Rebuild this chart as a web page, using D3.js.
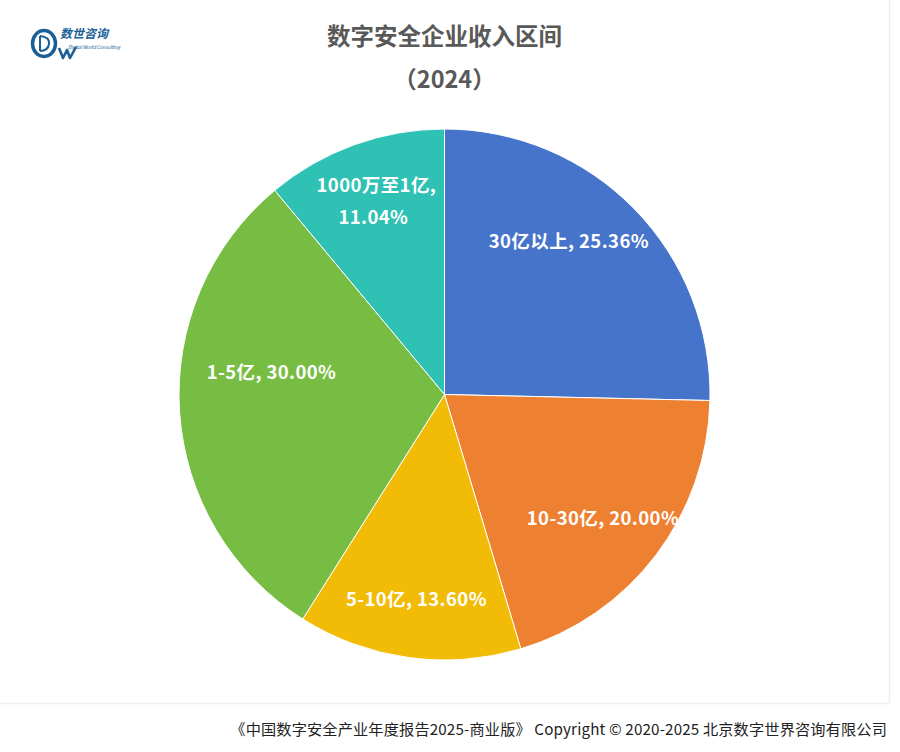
<!DOCTYPE html>
<html><head><meta charset="utf-8">
<script src="https://cdn.jsdelivr.net/npm/d3@7/dist/d3.min.js"></script>
<style>
html,body{margin:0;padding:0;background:#fff;}
svg{display:block;}
text{font-family:"Noto Sans CJK SC","Noto Sans",sans-serif;}
</style></head>
<body>
<svg id="chart" width="900" height="752"></svg>
<script>
const categories = ["30亿以上", "10-30亿", "5-10亿", "1-5亿", "1000万至1亿"];
const values = [25.36, 20.00, 13.60, 30.00, 11.04];
const colors = ["#4674CA", "#EE8031", "#F2BB05", "#77BD43", "#2FC1B4"];
const titleLines = ["数字安全企业收入区间", "（2024）"];
const footerText = "《中国数字安全产业年度报告2025-商业版》 Copyright © 2020-2025 北京数字世界咨询有限公司";

const svg = d3.select("#chart");

// light frame
svg.append("line").attr("x1",0).attr("x2",889.5).attr("y1",703.5).attr("y2",703.5).attr("stroke","#efefef").attr("stroke-width",1.5);
svg.append("line").attr("x1",889.5).attr("x2",889.5).attr("y1",0).attr("y2",703.5).attr("stroke","#efefef").attr("stroke-width",1.5);

// logo
const logo = svg.append("g");
logo.append("ellipse").attr("cx",44).attr("cy",43.5).attr("rx",11.5).attr("ry",13)
  .attr("fill","none").attr("stroke","#1c5f96").attr("stroke-width",3.5);
logo.append("path").attr("d","M40,36 L40,51 M40,36 Q50,37 49,44 Q48,51 40,51")
  .attr("fill","none").attr("stroke","#1c5f96").attr("stroke-width",2);
logo.append("path").attr("d","M59,48 L63,58 L67,50 L70,58 L76,47")
  .attr("fill","none").attr("stroke","#1c5f96").attr("stroke-width",2.6).attr("stroke-linejoin","round");
logo.append("text").attr("x",60).attr("y",37.5).attr("font-size",12).attr("font-weight","bold")
  .attr("fill","#1c5f96").attr("font-style","italic").text("数世咨询");
logo.append("text").attr("x",68).attr("y",48.5).attr("font-size",5).attr("textLength",52)
  .attr("fill","#1c5f96").attr("font-style","italic").text("Digital World Consulting");

// title
svg.append("text").attr("x",444.5).attr("y",35).attr("text-anchor","middle").attr("dominant-baseline","central")
  .attr("font-size",23.5).attr("font-weight","bold").attr("fill","#595959").text(titleLines[0]);
svg.append("text").attr("x",444.5).attr("y",78).attr("text-anchor","middle").attr("dominant-baseline","central")
  .attr("font-size",23.5).attr("font-weight","bold").attr("fill","#595959").text(titleLines[1]);

// pie
const cx = 444.5, cy = 394.5, R = 265.5;
const data = categories.map((c,i)=>({cat:c, value:values[i], color:colors[i]}));
const pie = d3.pie().sort(null).value(d=>d.value);
const arcs = pie(data);
const arc = d3.arc().innerRadius(0).outerRadius(R);
const labelArc = d3.arc().innerRadius(R*0.755).outerRadius(R*0.755);
const g = svg.append("g").attr("transform",`translate(${cx},${cy})`);
g.selectAll("path").data(arcs).enter().append("path")
  .attr("d",arc).attr("fill",d=>d.data.color).attr("stroke","#fff").attr("stroke-width",1);

// label nudges (best-fit placement)
const nudge = {"30亿以上":[-19,-14],"10-30亿":[-1,1],"5-10亿":[-1,5],"1-5亿":[27,-37],"1000万至1亿":[0,-12]};
const fmt = d3.format(".2f");
arcs.forEach(d=>{
  const [x,y] = labelArc.centroid(d);
  const n = nudge[d.data.cat];
  const t = g.append("text").attr("text-anchor","middle").attr("font-size",18.5).attr("font-weight","bold")
    .attr("letter-spacing",0.4).attr("fill","#fff");
  if (d.data.cat === "1000万至1亿") {
    t.append("tspan").attr("x",x+n[0]).attr("y",y+n[1]-10).attr("dominant-baseline","central").text(d.data.cat+",");
    t.append("tspan").attr("x",x+n[0]-3).attr("y",y+n[1]+22).attr("dominant-baseline","central").text(fmt(d.data.value)+"%");
  } else {
    t.attr("x",x+n[0]).attr("y",y+n[1]).attr("dominant-baseline","central").text(d.data.cat+", "+fmt(d.data.value)+"%");
  }
});

// footer
svg.append("text").attr("x",887).attr("y",728).attr("text-anchor","end").attr("dominant-baseline","central")
  .attr("font-size",15.2).attr("letter-spacing",0.15).attr("fill","#222").text(footerText);
</script>
</body></html>
